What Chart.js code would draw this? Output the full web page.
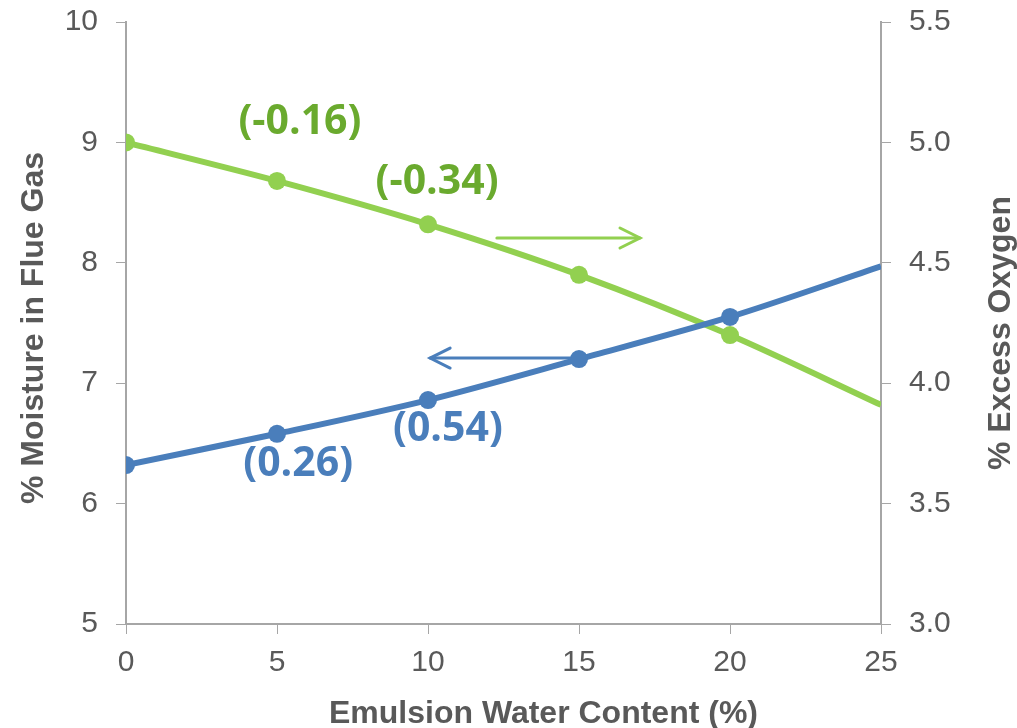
<!DOCTYPE html>
<html>
<head>
<meta charset="utf-8">
<script src="https://cdn.jsdelivr.net/npm/chart.js@4.4.1/dist/chart.umd.min.js"></script>
<style>
  html, body { margin: 0; padding: 0; background: #ffffff; }
  #wrap { width: 1017px; height: 728px; position: relative; }
</style>
</head>
<body>
<div id="wrap"><canvas id="chart" width="1017" height="728"></canvas></div>
<script>
// Emulsion water content (%)
const waterContent = [0, 5, 10, 15, 20, 25];
// % moisture in flue gas (left axis)
const moisture = [6.32, 6.58, 6.86, 7.20, 7.55, 7.97];
// % excess oxygen (right axis)
const excessO2 = [5.00, 4.84, 4.66, 4.45, 4.20, 3.91];
// markers shown only at measured points
const markerRadius = [9, 9, 9, 9, 9, 0];

// axis titles
const xTitle = 'Emulsion Water Content (%)';
const yTitle = '% Moisture in Flue Gas';
const y2Title = '% Excess Oxygen';

// slope labels, placed in data units of x / left axis
const slopeLabels = [
  { text: '(-0.16)', x: 5.76, y: 9.17, color: '#6aaa2e' },
  { text: '(-0.34)', x: 10.3, y: 8.67, color: '#6aaa2e' },
  { text: '(0.26)',  x: 5.7,  y: 6.33, color: '#4a7ebb' },
  { text: '(0.54)',  x: 10.66, y: 6.62, color: '#4a7ebb' }
];
// arrows pointing to the axis each curve belongs to
const axisArrows = [
  { x0: 12.28, x1: 17.02, y: 8.206, color: '#92d050' },
  { x0: 14.7,  x1: 10.07, y: 7.209, color: '#4a7ebb' }
];

const GREY = '#595959';
const AXIS = '#a6a6a6';
const tickFont = { family: 'Liberation Sans', size: 30 };

const annotations = {
  id: 'annotations',
  afterDatasetsDraw(chart) {
    const { ctx, scales } = chart;
    const xs = scales.x, ys = scales.y;
    ctx.save();
    axisArrows.forEach(a => {
      const px0 = xs.getPixelForValue(a.x0);
      const px1 = xs.getPixelForValue(a.x1);
      const py = ys.getPixelForValue(a.y);
      const dir = Math.sign(px1 - px0);
      ctx.strokeStyle = a.color;
      ctx.lineWidth = 3;
      ctx.lineCap = 'round';
      ctx.beginPath();
      ctx.moveTo(px0, py);
      ctx.lineTo(px1, py);
      ctx.stroke();
      ctx.beginPath();
      ctx.moveTo(px1 - dir * 20, py - 10);
      ctx.lineTo(px1, py);
      ctx.lineTo(px1 - dir * 20, py + 10);
      ctx.stroke();
    });
    ctx.font = 'bold 41px "Open Sans"';
    ctx.textAlign = 'center';
    ctx.textBaseline = 'middle';
    slopeLabels.forEach(l => {
      ctx.fillStyle = l.color;
      ctx.fillText(l.text, xs.getPixelForValue(l.x), ys.getPixelForValue(l.y));
    });
    ctx.restore();
  }
};

// axis titles, drawn around the plot area
const axisTitles = {
  id: 'axisTitles',
  afterDraw(chart) {
    const { ctx, chartArea, width, height } = chart;
    ctx.save();
    ctx.font = 'bold 32px "Liberation Sans"';
    ctx.fillStyle = GREY;
    ctx.textAlign = 'center';
    ctx.textBaseline = 'alphabetic';
    ctx.fillText(xTitle, (chartArea.left + chartArea.right) / 2 + 40, height - 5);
    const midY = (chartArea.top + chartArea.bottom) / 2;
    ctx.save();
    ctx.translate(43, midY + 5);
    ctx.rotate(-Math.PI / 2);
    ctx.fillText(yTitle, 0, 0);
    ctx.restore();
    ctx.save();
    ctx.translate(width - 7, midY + 10);
    ctx.rotate(-Math.PI / 2);
    ctx.fillText(y2Title, 0, 0);
    ctx.restore();
    ctx.restore();
  }
};

function fixVertical(w) {
  return s => { s.width = w; s.paddingTop = 22; s.paddingBottom = 0; };
}

new Chart(document.getElementById('chart'), {
  type: 'line',
  data: {
    datasets: [
      {
        label: yTitle,
        data: waterContent.map((x, i) => ({ x, y: moisture[i] })),
        yAxisID: 'y',
        borderColor: '#4a7ebb',
        backgroundColor: '#4a7ebb',
        borderWidth: 6,
        pointRadius: markerRadius,
        pointBorderWidth: 0,
        tension: 0.3
      },
      {
        label: y2Title,
        data: waterContent.map((x, i) => ({ x, y: excessO2[i] })),
        yAxisID: 'y2',
        borderColor: '#92d050',
        backgroundColor: '#92d050',
        borderWidth: 6,
        pointRadius: markerRadius,
        pointBorderWidth: 0,
        tension: 0.3
      }
    ]
  },
  options: {
    responsive: false,
    animation: false,
    layout: { padding: 0 },
    plugins: { legend: { display: false }, tooltip: { enabled: false } },
    scales: {
      x: {
        type: 'linear',
        min: 0, max: 25,
        ticks: { stepSize: 5, color: GREY, font: tickFont, padding: 11 },
        grid: { drawOnChartArea: false, drawTicks: true, tickLength: 10, color: AXIS },
        border: { display: true, color: AXIS, width: 2 },
        afterFit(s) { s.height = 104; }
      },
      y: {
        position: 'left',
        min: 5, max: 10,
        ticks: { stepSize: 1, color: GREY, font: tickFont, padding: 18 },
        grid: { drawOnChartArea: false, drawTicks: true, tickLength: 10, color: AXIS },
        border: { display: true, color: AXIS, width: 2 },
        afterFit: fixVertical(126)
      },
      y2: {
        position: 'right',
        min: 3, max: 5.5,
        ticks: { stepSize: 0.5, color: GREY, font: tickFont, padding: 18,
                 callback: v => v.toFixed(1) },
        grid: { drawOnChartArea: false, drawTicks: true, tickLength: 10, color: AXIS },
        border: { display: true, color: AXIS, width: 2 },
        afterFit: fixVertical(136)
      }
    }
  },
  plugins: [annotations, axisTitles]
});
</script>
</body>
</html>
